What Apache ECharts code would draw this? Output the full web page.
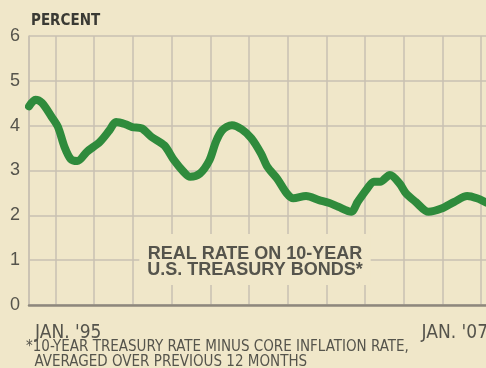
<!DOCTYPE html>
<html>
<head>
<meta charset="utf-8">
<script src="https://cdn.jsdelivr.net/npm/echarts@6/dist/echarts.min.js"></script>
<style>
html,body{margin:0;padding:0;background:#f0e7c9;}
#c{width:486px;height:368px;}
</style>
</head>
<body>
<div id="c"></div>
<script>
// Months since Jan 1995
var months = [0, 2, 4, 7, 9, 11, 13, 15, 18, 22, 25, 27, 30, 32, 35, 38, 42, 45, 48, 50, 53, 56, 58, 60, 63, 66, 69, 72, 74, 77, 80, 82, 86, 90, 93, 96, 100, 102, 105, 107, 109, 112, 115, 117, 120, 124, 128, 132, 136, 139, 142];
// Real rate on 10-year U.S. Treasury bonds, percent
var realRate = [4.43, 4.58, 4.51, 4.20, 3.97, 3.53, 3.25, 3.21, 3.42, 3.64, 3.90, 4.08, 4.03, 3.97, 3.94, 3.75, 3.56, 3.23, 2.97, 2.86, 2.93, 3.23, 3.64, 3.90, 4.01, 3.92, 3.72, 3.38, 3.08, 2.82, 2.49, 2.38, 2.43, 2.34, 2.28, 2.19, 2.08, 2.30, 2.60, 2.75, 2.75, 2.90, 2.71, 2.49, 2.30, 2.08, 2.15, 2.30, 2.43, 2.38, 2.28];
var xTickLabels = ["JAN. '95", "JAN. '07"];
var yTicks = [0, 1, 2, 3, 4, 5, 6];
var yName = "PERCENT";
var annotation = ["REAL RATE ON 10-YEAR", "U.S. TREASURY BONDS*"];
var footnote = ["*10-YEAR TREASURY RATE MINUS CORE INFLATION RATE,", "  AVERAGED OVER PREVIOUS 12 MONTHS"];

var NARROW = "'Liberation Sans Narrow', 'DejaVu Sans Condensed', sans-serif";
var gridColor = '#c9c0b2';
var textColor = '#55544c';

var data = months.map(function (m, i) { return [m, realRate[i]]; });

var chart = echarts.init(document.getElementById('c'));
chart.setOption({
  backgroundColor: '#f0e7c9',
  animation: false,
  grid: { left: 29, top: 36, width: 464, bottom: 63, containLabel: false, outerBoundsMode: 'none' },
  xAxis: [{
    type: 'value', min: 0, max: 144, interval: 12,
    axisLine: { show: true, lineStyle: { color: '#8e887c', width: 2.5 } },
    axisTick: { show: false },
    splitLine: { show: false },
    axisLabel: {
      margin: 19, fontFamily: NARROW, fontSize: 19, color: textColor,
      showMinLabel: true, showMaxLabel: true,
      alignMinLabel: 'left', alignMaxLabel: 'right',
      formatter: function (v) { return v === 0 ? '{a|' + xTickLabels[0] + '}' : (v === 144 ? '{b|' + xTickLabels[1] + '}' : ''); },
      rich: {
        a: { fontFamily: NARROW, fontSize: 19, color: textColor, padding: [0, 0, 0, 6] },
        b: { fontFamily: NARROW, fontSize: 19, color: textColor, padding: [0, 5, 0, 0] }
      }
    }
  }, {
    type: 'value', min: -0.686, max: 11.31, minInterval: 1, maxInterval: 1,
    position: 'bottom', show: true,
    axisLine: { show: false }, axisTick: { show: false }, axisLabel: { show: false },
    splitLine: { show: true, lineStyle: { color: gridColor, width: 1.5 } }
  }],
  yAxis: {
    type: 'value', min: yTicks[0], max: yTicks[yTicks.length - 1], interval: 1,
    name: yName, nameLocation: 'end', nameGap: 7,
    nameTextStyle: { fontFamily: NARROW, fontSize: 15, fontWeight: 'bold', color: '#3a3a34', align: 'left', padding: [0, 0, 0, 2] },
    axisLine: { show: true, lineStyle: { color: gridColor, width: 1.5 } },
    axisTick: { show: false },
    axisLabel: { margin: 9, fontFamily: "'Liberation Sans', sans-serif", fontSize: 18, color: textColor },
    splitLine: { show: true, lineStyle: { color: gridColor, width: 1.5 } }
  },
  series: [{
    type: 'line', xAxisIndex: 0, data: data, smooth: 0.3, symbol: 'none',
    lineStyle: { color: '#2f8b3c', width: 8, cap: 'round', join: 'round' },
    z: 5
  }],
  graphic: [{
    type: 'text', x: 255, y: 234, z: 10,
    style: {
      text: annotation.join('\n'), fill: textColor,
      font: "bold 18px 'Liberation Sans', sans-serif",
      textAlign: 'center', textVerticalAlign: 'top', lineHeight: 16,
      backgroundColor: '#f0e7c9', padding: [12, 8, 7, 8]
    }
  }, {
    type: 'text', left: 26, top: 340, z: 10,
    style: {
      text: footnote.join('\n'), fill: textColor,
      font: "15px 'Liberation Sans Narrow', 'DejaVu Sans Condensed', sans-serif",
      lineHeight: 15
    }
  }]
});
</script>
</body>
</html>
